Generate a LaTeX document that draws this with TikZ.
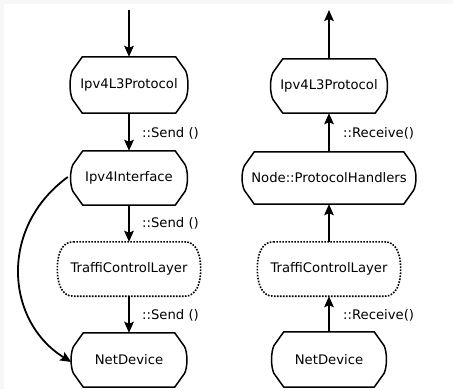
\documentclass[tikz,border=0pt]{standalone}
\usepackage{fontspec}
\setmainfont{DejaVu Sans}
\usetikzlibrary{calc,arrows.meta}
\tikzset{
  box/.style={draw=none,inner sep=0pt,font=\fontsize{13.2}{15}\selectfont},
  outl/.style={line width=1.5pt,line join=round},
  dotl/.style={line width=1.6pt,dash pattern=on 1.6pt off 1.4pt},
  arr/.style={line width=1.8pt,-{Stealth[length=11pt,width=9.5pt,inset=2pt]}},
  lbl/.style={anchor=west,inner sep=0pt,font=\fontsize{13.2}{15}\selectfont},
}
\newcommand\octoline[1]{%
  \draw[outl] ($(#1.north west)+(13,0)$) -- ($(#1.north east)+(-13,0)$)
    -- ($(#1.north east)+(-3,14)$)
    .. controls ($(#1.north east)+(0,21)$) and ($(#1.south east)+(0,-21)$) .. ($(#1.south east)+(-3,-14)$)
    -- ($(#1.south east)+(-13,0)$) -- ($(#1.south west)+(13,0)$)
    -- ($(#1.south west)+(3,-14)$)
    .. controls ($(#1.south west)+(0,-21)$) and ($(#1.north west)+(0,21)$) .. ($(#1.north west)+(3,14)$)
    -- cycle;}
\newcommand\roundline[1]{%
  \draw[dotl] ($(#1.north west)+(16,0)$) -- ($(#1.north east)+(-16,0)$)
    .. controls ($(#1.north east)+(-4,0)$) and ($(#1.east)+(0,-14)$) .. (#1.east)
    .. controls ($(#1.east)+(0,14)$) and ($(#1.south east)+(-4,0)$) .. ($(#1.south east)+(-16,0)$)
    -- ($(#1.south west)+(16,0)$)
    .. controls ($(#1.south west)+(4,0)$) and ($(#1.west)+(0,14)$) .. (#1.west)
    .. controls ($(#1.west)+(0,-14)$) and ($(#1.north west)+(4,0)$) .. ($(#1.north west)+(16,0)$)
    -- cycle;}
\begin{document}
\begin{tikzpicture}[x=1pt,y=-1pt]
\useasboundingbox (0,0) rectangle (453,389);
\fill[black!3] (0,0) rectangle (453,389);
\fill[white] (4,4) rectangle (453,389);
% left column
\node[box,minimum width=119pt,minimum height=56pt] (L1) at (129,85) {Ipv4L3Protocol};
\node[box,minimum width=118pt,minimum height=54pt] (L2) at (129,178) {Ipv4Interface};
\node[box,minimum width=143pt,minimum height=54pt] (L3) at (129,269) {TraffiControlLayer};
\node[box,minimum width=117pt,minimum height=54pt] (L4) at (129,360) {NetDevice};
% right column
\node[box,minimum width=118pt,minimum height=54pt] (R1) at (329,86) {Ipv4L3Protocol};
\node[box,minimum width=175pt,minimum height=52pt] (R2) at (329,178) {Node::ProtocolHandlers};
\node[box,minimum width=143pt,minimum height=54pt] (R3) at (329,269) {TraffiControlLayer};
\node[box,minimum width=116pt,minimum height=55pt] (R4) at (329,359.5) {NetDevice};
\octoline{L1}\octoline{L2}\roundline{L3}\octoline{L4}
\octoline{R1}\octoline{R2}\roundline{R3}\octoline{R4}
\coordinate (ltop) at (129,10);
\coordinate (rtop) at (329,10);
\draw[arr] (ltop) -- (L1.north);
\draw[arr] (L1) -- (L2);
\draw[arr] (L2) -- (L3);
\draw[arr] (L3) -- (L4);
\draw[arr] (R1.north) -- (rtop);
\draw[arr] (R2) -- (R1);
\draw[arr] (R3) -- (R2);
\draw[arr] (R4) -- (R3);
\draw[arr] ($(L2.west)+(-2,-1)$) .. controls (-2,228) and (6,322) .. ($(L4.west)+(1,2)$);
\node[lbl] (s1) at (142,133) {::Send ()};
\node[lbl] (s2) at (142,223) {::Send ()};
\node[lbl] (s3) at (142,315) {::Send ()};
\node[lbl] (r1) at (343,133) {::Receive()};
\node[lbl] (r2) at (343,315) {::Receive()};
\end{tikzpicture}
\end{document}
